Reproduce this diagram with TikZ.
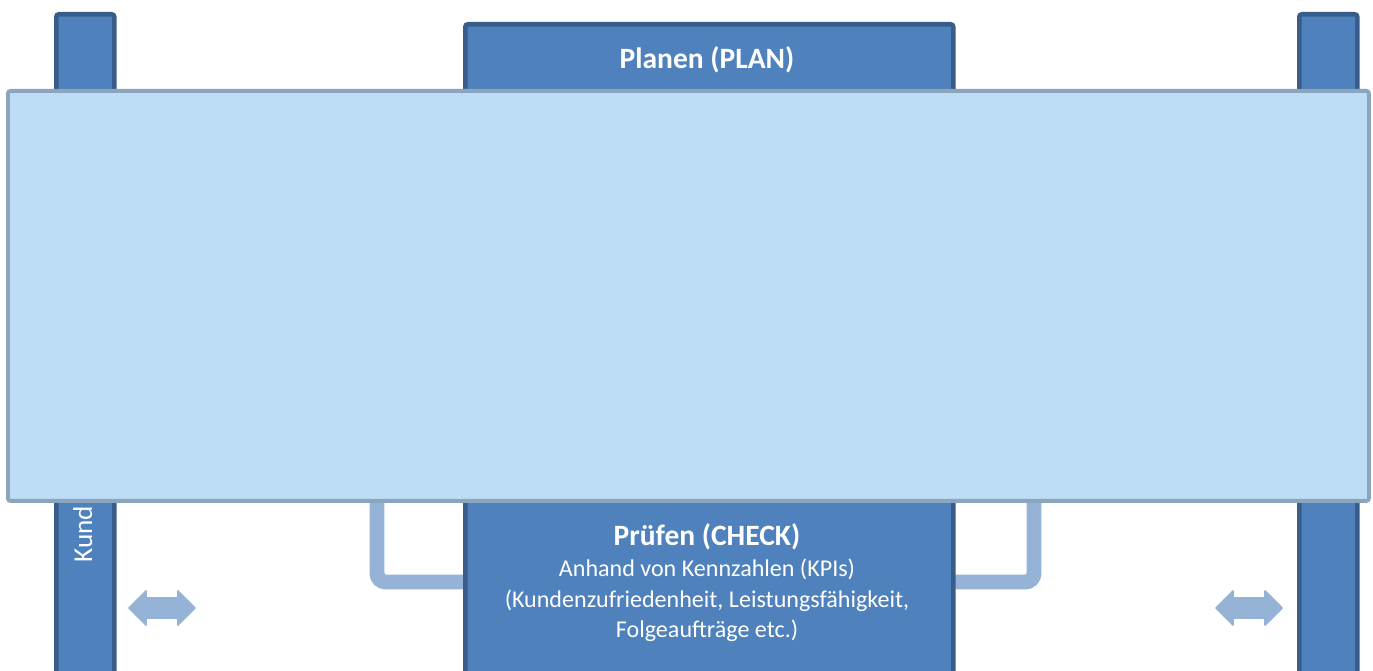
\documentclass[tikz,border=0pt]{standalone}
\usepackage{fontspec}
\setmainfont{Carlito}
\definecolor{barfill}{HTML}{4F81BD}
\definecolor{bardraw}{HTML}{385D8A}
\definecolor{ovfill}{HTML}{BDDCF6}
\definecolor{ovdraw}{HTML}{8CA5BC}
\definecolor{conncol}{HTML}{95B3D7}
\begin{document}
\begin{tikzpicture}[x=0.02cm,y=-0.02cm,
  bar/.style={draw=bardraw, fill=barfill, line width=2.6pt, rounded corners=1.5pt, inner sep=0pt},
  overlay box/.style={draw=ovdraw, fill=ovfill, line width=2.2pt, rounded corners=1.5pt, inner sep=0pt},
  conn/.style={draw=conncol, line width=8.5pt, rounded corners=5pt},
  dblarrow/.style={fill=conncol, draw=conncol, line width=1pt, line join=round},
  titletext/.style={text=white, font=\fontsize{16.8}{20}\selectfont\bfseries, inner sep=0pt},
  bodytext/.style={text=white, font=\fontsize{13.7}{17.3}\selectfont, align=center, inner sep=0pt}]
\useasboundingbox (0,0) rectangle (1373,671);
\clip (0,0) rectangle (1373,671);
% side bars
\node[bar, anchor=north west, minimum width=58*0.02cm, minimum height=14cm] (lbar) at (54,12) {};
\node[bar, anchor=north west, minimum width=58*0.02cm, minimum height=14cm] (rbar) at (1297,12) {};
\node[text=white, font=\fontsize{15.5}{19}\selectfont, rotate=90, anchor=base west, inner sep=0pt] (kund) at (92,563) {Kund};
% connectors
\coordinate (lc) at (377,490);
\coordinate (rc) at (1034,490);
% boxes
\node[bar, anchor=north west, minimum width=488*0.02cm, minimum height=3cm] (plan) at (463,22) {};
\node[titletext] (plantitle) at (707,60) {Planen (PLAN)};
\draw[conn] (lc) |- (470,582) coordinate (lend);
\draw[conn] (rc) |- (944,582) coordinate (rend);
\node[bar, anchor=north west, minimum width=488*0.02cm, minimum height=4.5cm] (check) at (463,494) {};
\node[titletext] (checktitle) at (707,537) {Prüfen (CHECK)};
\node[bodytext, anchor=north] (checkbody) at (707,559) {Anhand von Kennzahlen (KPIs)\\(Kundenzufriedenheit, Leistungsfähigkeit,\\Folgeaufträge etc.)};
% double arrows
\fill[dblarrow] (129,608) -- (146,591) -- (146,598) -- (178,598) -- (178,591) -- (195,608) -- (178,625) -- (178,618) -- (146,618) -- (146,625) -- cycle;
\fill[dblarrow] (1216,608) -- (1233,591) -- (1233,598) -- (1265,598) -- (1265,591) -- (1282,608) -- (1265,625) -- (1265,618) -- (1233,618) -- (1233,625) -- cycle;
% overlay
\node[overlay box, anchor=north west, minimum width=1361*0.02cm, minimum height=410*0.02cm] (cover) at (6,89) {};
\end{tikzpicture}
\end{document}
